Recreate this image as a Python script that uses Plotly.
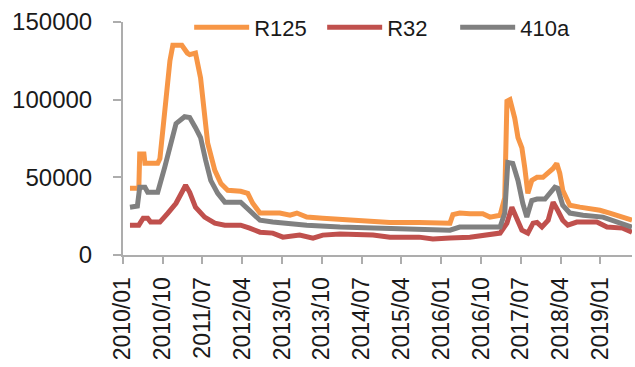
import plotly.graph_objects as go

# R125 series (date, price)
r125_dates = [
    "2010-02-18", "2010-04-20", "2010-04-26", "2010-05-25", "2010-06-01", "2010-08-28",
    "2010-09-12", "2010-10-15", "2010-11-20", "2010-12-10", "2011-01-10", "2011-02-10",
    "2011-03-20", "2011-04-05", "2011-05-15", "2011-06-19", "2011-08-07", "2011-09-25",
    "2011-11-06", "2011-12-23", "2012-03-21", "2012-05-09", "2012-06-12", "2012-08-01",
    "2012-12-15", "2013-02-24", "2013-04-12", "2013-06-19", "2013-10-07", "2014-02-03",
    "2014-05-28", "2015-01-13", "2015-08-01", "2015-12-22", "2016-02-09", "2016-03-01",
    "2016-03-21", "2016-05-07", "2016-07-16", "2016-10-13", "2016-12-01", "2017-02-09",
    "2017-03-13", "2017-03-28", "2017-04-18", "2017-05-21", "2017-06-12", "2017-07-09",
    "2017-07-29", "2017-08-19", "2017-09-15", "2017-10-21", "2017-12-01", "2018-01-06",
    "2018-02-09", "2018-03-06", "2018-03-27", "2018-04-16", "2018-06-04", "2018-08-12",
    "2018-10-21", "2018-12-28", "2019-03-06", "2019-06-04", "2019-08-06",
]
r125_values = [
    43000, 43000, 65000, 65000, 59000, 59000,
    62000, 93000, 125000, 135000, 135000, 135000,
    130000, 129000, 130000, 114000, 72000, 54500,
    46000, 41700, 41000, 39700, 33300, 27000,
    27000, 25600, 27000, 24400, 23700, 23000,
    21800, 21000, 21000, 21000, 20500, 20500,
    26000, 27000, 26500, 26500, 24400, 25600,
    37000, 99000, 100000, 88000, 75600, 69000,
    56000, 39700, 48000, 50000, 50000, 53000,
    55700, 59000, 52500, 41700, 32000, 30800,
    30000, 28800, 27000, 24400, 22400,
]

# R32 series
r32_dates = [
    "2010-02-18", "2010-04-20", "2010-05-20", "2010-06-20", "2010-07-10", "2010-09-12",
    "2010-11-06", "2011-01-01", "2011-02-18", "2011-03-08", "2011-04-05", "2011-05-15",
    "2011-07-17", "2011-09-25", "2011-12-03", "2012-03-21", "2012-05-22", "2012-08-01",
    "2012-10-28", "2013-01-06", "2013-05-01", "2013-08-01", "2013-10-07", "2014-02-03",
    "2014-09-18", "2015-01-13", "2015-08-01", "2015-11-04", "2016-03-01", "2016-07-16",
    "2017-02-09", "2017-03-28", "2017-05-01", "2017-06-04", "2017-07-09", "2017-08-19",
    "2017-09-24", "2017-10-21", "2017-11-24", "2018-01-06", "2018-02-09", "2018-03-12",
    "2018-04-16", "2018-05-21", "2018-07-22", "2018-12-07", "2019-02-15", "2019-06-04",
    "2019-08-06",
]
r32_values = [
    19200, 19200, 23700, 23700, 21200, 21200,
    27000, 33300, 41700, 44900, 40400, 30800,
    24400, 20500, 19200, 19200, 17300, 14700,
    14100, 11500, 12800, 10900, 12800, 13500,
    12800, 11500, 11500, 10300, 10900, 11500,
    14100, 20500, 30800, 22400, 16000, 14100,
    20500, 21000, 18000, 22400, 34000, 28800,
    22400, 19200, 21200, 21200, 18000, 17300,
    14700,
]

# 410a series
r410a_dates = [
    "2010-02-18", "2010-04-10", "2010-04-26", "2010-06-01", "2010-06-20", "2010-08-28",
    "2010-10-15", "2010-11-27", "2011-01-01", "2011-03-01", "2011-04-05", "2011-05-15",
    "2011-06-19", "2011-07-24", "2011-08-28", "2011-10-15", "2011-12-03", "2012-03-21",
    "2012-04-25", "2012-05-22", "2012-08-01", "2012-10-28", "2013-01-06", "2013-06-19",
    "2014-02-03", "2014-09-18", "2015-05-08", "2015-12-22", "2016-03-01", "2016-05-07",
    "2017-02-09", "2017-03-13", "2017-04-03", "2017-05-07", "2017-06-12", "2017-07-15",
    "2017-08-12", "2017-09-15", "2017-10-21", "2017-12-15", "2018-01-19", "2018-02-21",
    "2018-03-12", "2018-04-16", "2018-06-04", "2018-09-03", "2019-01-18", "2019-04-24",
    "2019-08-06",
]
r410a_values = [
    30800, 31500, 43600, 43600, 40400, 40400,
    56400, 73700, 84600, 89000, 88500, 82000,
    75600, 61000, 48000, 39700, 34000, 34000,
    30800, 28800, 22400, 21200, 20500, 19200,
    18000, 17300, 17300, 16000, 16000, 18000,
    18000, 27000, 59600, 59000, 48000, 33300,
    24400, 35000, 36000, 36000, 39700, 43600,
    43000, 32000, 27000, 25600, 24400, 21200,
    18000,
]

FONT = "Liberation Sans"
AXIS_COLOR = "#ADADAD"

fig = go.Figure()

fig.add_trace(go.Scatter(x=r125_dates, y=r125_values, name="R125", mode="lines",
                         line=dict(color="#F79646", width=5)))
fig.add_trace(go.Scatter(x=r32_dates, y=r32_values, name="R32", mode="lines",
                         line=dict(color="#C0504D", width=5)))
fig.add_trace(go.Scatter(x=r410a_dates, y=r410a_values, name="410a", mode="lines",
                         line=dict(color="#808080", width=5)))

fig.update_layout(
    width=635, height=367,
    margin=dict(l=123, r=3, t=22, b=112, autoexpand=False),
    paper_bgcolor="white", plot_bgcolor="white",
    font=dict(family=FONT, size=23, color="#1A1A1A"),
    showlegend=True,
    legend=dict(orientation="h", x=0.13, xanchor="left", y=0.977, yanchor="middle",
                bgcolor="rgba(0,0,0,0)", font=dict(size=22), itemwidth=55,
                entrywidth=63, entrywidthmode="pixels"),
)

fig.update_xaxes(
    type="date", range=["2010-01-01", "2019-08-06"],
    tick0="2010-01-01", dtick="M9", tickformat="%Y/%m", tickangle=-90,
    showgrid=False, zeroline=False, automargin=False,
    showline=True, linecolor=AXIS_COLOR, linewidth=2,
    ticks="outside", ticklen=7, tickcolor=AXIS_COLOR, tickwidth=2,
    ticklabelstandoff=4,
    tickfont=dict(size=23),
)
fig.update_yaxes(
    range=[0, 150000], dtick=50000, tickformat="d",
    showgrid=False, zeroline=False, automargin=False,
    showline=True, linecolor=AXIS_COLOR, linewidth=2,
    ticks="outside", ticklen=8, tickcolor=AXIS_COLOR, tickwidth=2,
    ticklabelstandoff=16,
    tickfont=dict(size=24),
)

# the page's default body margin would push the chart off the 635x367 window
fig.write_html("out.html", config={"displayModeBar": False},
               post_script="document.body.style.margin='0';document.body.style.overflow='hidden';")
